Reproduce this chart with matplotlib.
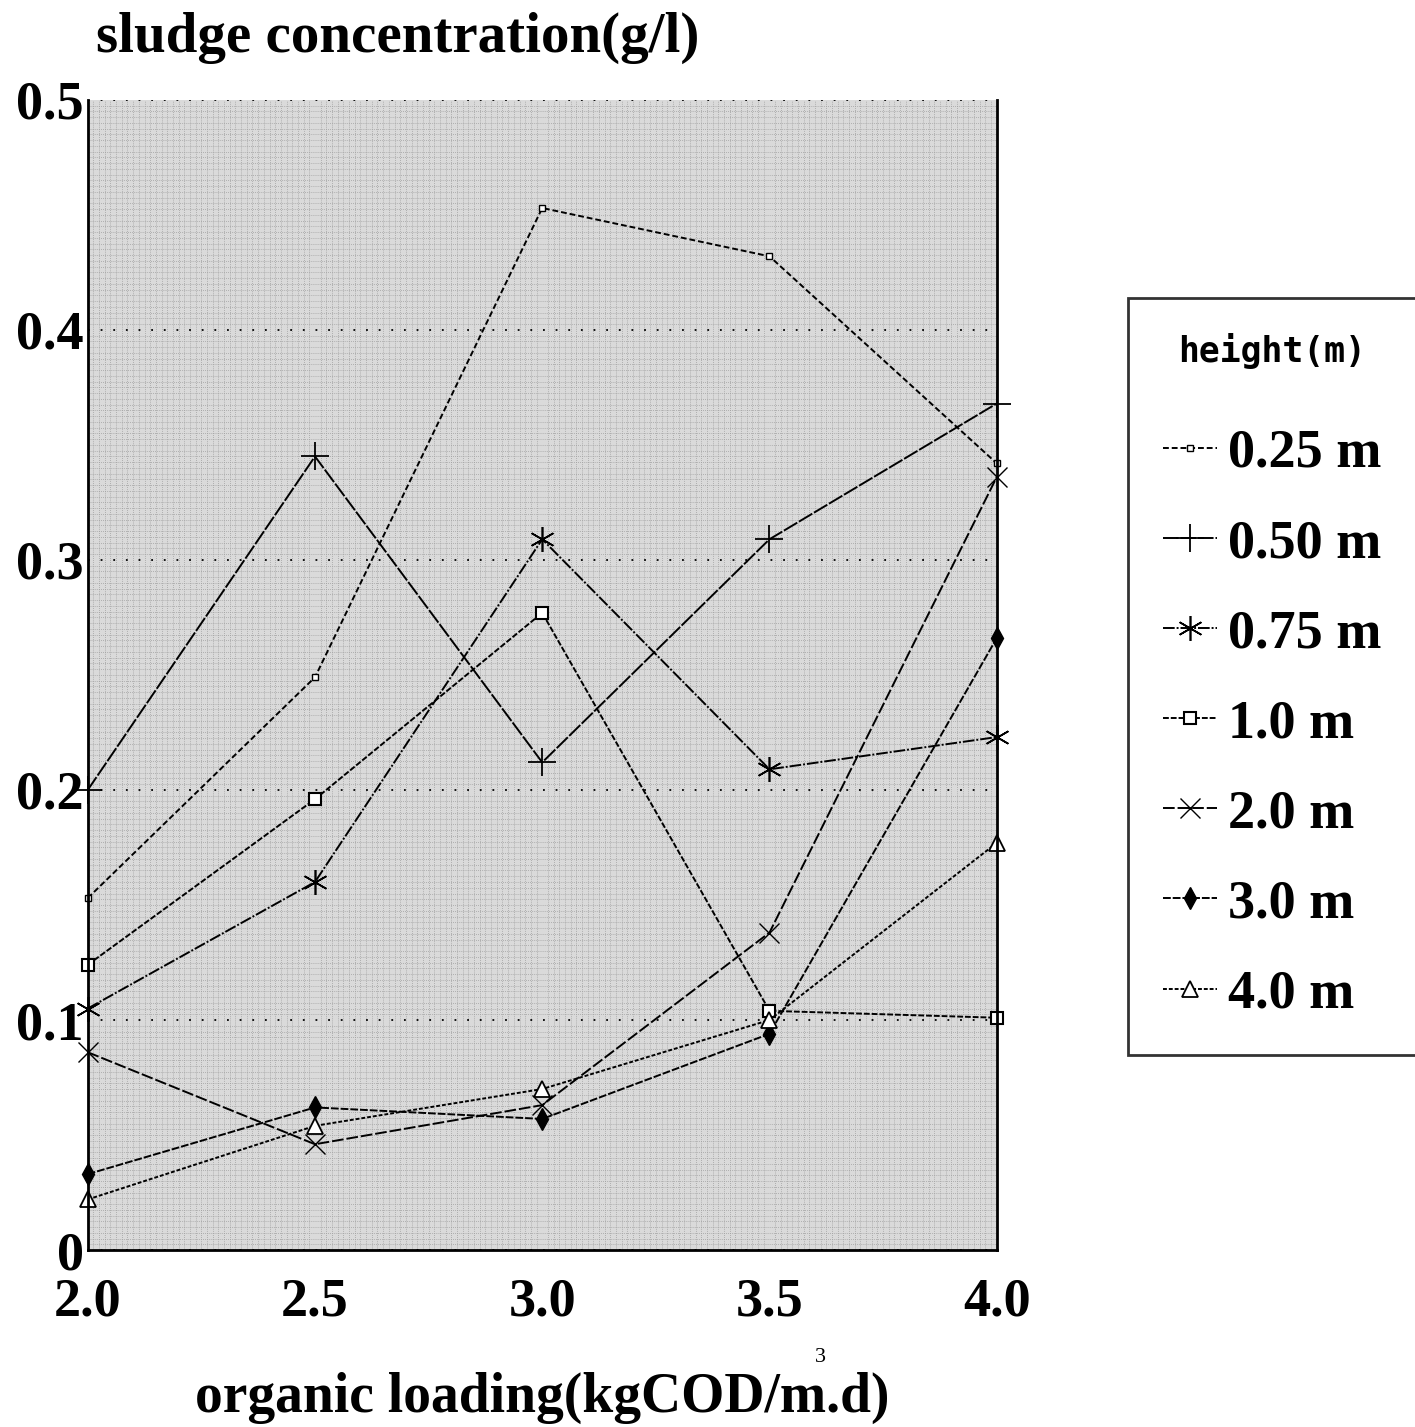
import matplotlib
matplotlib.use("Agg")
import matplotlib.pyplot as plt
from matplotlib.ticker import MultipleLocator

# --- datos ---
loading = [2.0, 2.5, 3.0, 3.5, 4.0]
x_labels = ["2.0", "2.5", "3.0", "3.5", "4.0"]
y_ticks = [0, 0.1, 0.2, 0.3, 0.4, 0.5]
y_labels = ["0", "0.1", "0.2", "0.3", "0.4", "0.5"]

h_025 = [0.153, 0.249, 0.453, 0.432, 0.342]
h_050 = [0.200, 0.345, 0.212, 0.309, 0.368]
h_075 = [0.105, 0.160, 0.309, 0.209, 0.223]
h_100 = [0.124, 0.196, 0.277, 0.104, 0.101]
h_200 = [0.086, 0.046, 0.063, 0.138, 0.336]
h_300 = [0.033, 0.062, 0.057, 0.094, 0.266]
h_400 = [0.022, 0.054, 0.070, 0.100, 0.177]

labels = ["0.25 m", "0.50 m", "0.75 m", "1.0 m", "2.0 m", "3.0 m", "4.0 m"]

plt.rcParams["font.family"] = ["Liberation Serif", "DejaVu Serif"]

fig = plt.figure(figsize=(14.15, 14.27), dpi=100)
ax = fig.add_axes([0.062, 0.124, 0.6424, 0.806])

# fondo tramado gris
ax.set_facecolor("#dadada")
ax.xaxis.set_minor_locator(MultipleLocator(0.0125))
ax.yaxis.set_minor_locator(MultipleLocator(0.0025))
ax.grid(which="minor", color="#a0a0a0", linewidth=0.6, linestyle=(0, (1, 1.5)))
ax.grid(which="major", axis="y", color="black", linewidth=1.3, linestyle=(0, (1, 6)))
ax.grid(which="major", axis="x", visible=False)
ax.set_axisbelow(True)

series = [
    (h_025, dict(marker="s", markersize=4.5, markerfacecolor="white", ls=(0, (3, 1.5)))),
    (h_050, dict(marker="+", markersize=20, markeredgewidth=1.3, ls=(0, (8, 1)))),
    (h_075, dict(marker=(6, 2, 0), markersize=18, markeredgewidth=1.2, ls=(0, (6, 1, 1, 1)))),
    (h_100, dict(marker="s", markersize=9, markerfacecolor="white", markeredgewidth=1.5, ls=(0, (3, 1)))),
    (h_200, dict(marker="x", markersize=15, markeredgewidth=1.0, ls=(0, (6, 1.5)))),
    (h_300, dict(marker="d", markersize=11, markerfacecolor="black", ls=(0, (4, 1)))),
    (h_400, dict(marker="^", markersize=12, markerfacecolor="white", markeredgewidth=1.3, ls=(0, (2, 1)))),
]
for (vals, st), lab in zip(series, labels):
    ls = st.pop("ls")
    ax.plot(loading, vals, color="black", linewidth=1.4, linestyle=ls,
            markeredgecolor="black", label=lab, clip_on=False, **st)

ax.set_xlim(2.0, 4.0)
ax.set_ylim(0, 0.5)
ax.set_xticks(loading)
ax.set_xticklabels(x_labels)
ax.set_yticks(y_ticks)
ax.set_yticklabels(y_labels)
ax.tick_params(axis="both", which="both", length=0, labelsize=39)
ax.tick_params(axis="x", pad=20)
ax.tick_params(axis="y", pad=3)
for lbl in ax.get_xticklabels() + ax.get_yticklabels():
    lbl.set_fontweight("bold")

for side in ["left", "right", "bottom"]:
    ax.spines[side].set_linewidth(2)
ax.spines["top"].set_visible(False)

fig.text(0.068, 0.992, "sludge concentration(g/l)", fontsize=41, fontweight="bold",
         va="top", ha="left")
ax.set_xlabel("organic loading(kgCOD/m.d)", fontsize=40, fontweight="bold", labelpad=32)
# exponente del m3 colocado encima, como en el original
fig.text(0.580, 0.042, "3", fontsize=16, ha="center", va="bottom")

leg = fig.legend(loc="upper left", bbox_to_anchor=(0.797, 0.791), fontsize=39,
                 title="height(m)", frameon=True, fancybox=False, edgecolor="black",
                 handlelength=1.0, handletextpad=0.2, labelspacing=0.74,
                 borderpad=0.65, borderaxespad=0)
leg.get_frame().set_linewidth(2)
for t in leg.get_texts():
    t.set_fontweight("bold")
leg.get_title().set_fontproperties({"family": "DejaVu Sans Mono", "weight": "bold", "size": 25})
# mas aire entre el titulo y las entradas
leg._legend_box.sep += 14

fig.savefig("out.png", dpi=100, facecolor="white")
